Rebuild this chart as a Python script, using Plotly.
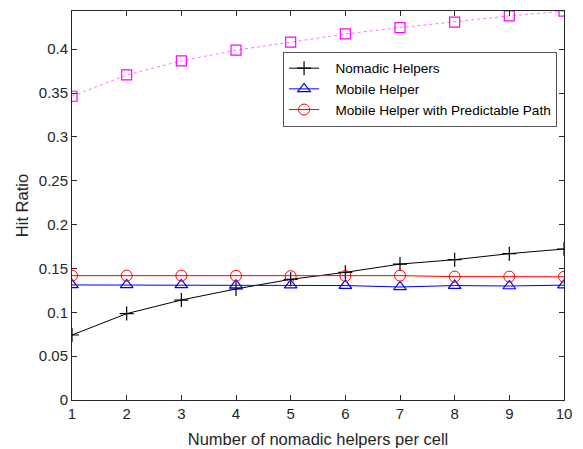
import plotly.graph_objects as go

x_vals = [1, 2, 3, 4, 5, 6, 7, 8, 9, 10]
upper_bound = [0.3464, 0.3707, 0.3867, 0.3990, 0.4080, 0.4175, 0.4247, 0.4310, 0.4380, 0.4434]
nomadic = [0.0741, 0.0985, 0.1140, 0.1266, 0.1376, 0.1456, 0.1550, 0.1600, 0.1669, 0.1722]
mobile = [0.1312, 0.1312, 0.1312, 0.1310, 0.1310, 0.1305, 0.1289, 0.1305, 0.1300, 0.1310]
mobile_pred = [0.1418, 0.1418, 0.1418, 0.1416, 0.1412, 0.1414, 0.1418, 0.1407, 0.1407, 0.1405]
y_ticks = [0, 0.05, 0.1, 0.15, 0.2, 0.25, 0.3, 0.35, 0.4]
y_tick_text = ["0", "0.05", "0.1", "0.15", "0.2", "0.25", "0.3", "0.35", "0.4"]

FONT = "Liberation Sans, Arial"
fig = go.Figure()
fig.add_trace(go.Scatter(x=x_vals, y=upper_bound, mode="lines", showlegend=False,
                         line=dict(color="rgba(255,0,255,0.55)", width=1, dash="dot")))
fig.add_trace(go.Scatter(x=x_vals, y=upper_bound, mode="markers", showlegend=False,
                         marker=dict(symbol="square-open", size=10, color="#ff00ff", line=dict(width=1.2))))
fig.add_trace(go.Scatter(x=x_vals, y=nomadic, mode="lines+markers", name="\u00a0\u00a0\u00a0Nomadic Helpers",
                         line=dict(color="black", width=1),
                         marker=dict(symbol="cross-thin-open", size=10, color="black", line=dict(width=1.2, color="black"))))
fig.add_trace(go.Scatter(x=x_vals, y=mobile, mode="lines+markers", name="\u00a0\u00a0\u00a0Mobile Helper",
                         line=dict(color="blue", width=1),
                         marker=dict(symbol="triangle-up-open", size=11, color="blue", line=dict(width=1.2))))
fig.add_trace(go.Scatter(x=x_vals, y=mobile_pred, mode="lines+markers", name="\u00a0\u00a0\u00a0Mobile Helper with Predictable Path",
                         line=dict(color="red", width=1),
                         marker=dict(symbol="circle-open", size=11, color="red", line=dict(width=1))))

axis_common = dict(showline=True, linecolor="#262626", linewidth=1, mirror="ticks",
                   ticks="inside", ticklen=5, tickcolor="#262626", showgrid=False, zeroline=False,
                   automargin=False,
                   tickfont=dict(family=FONT, size=15, color="#262626"))
fig.update_xaxes(range=[1, 10], tickvals=x_vals, title=dict(text="Number of nomadic helpers per cell",
                 font=dict(family=FONT, size=16.5, color="#262626"), standoff=12), **axis_common)
fig.update_yaxes(range=[0, 0.4436], tickvals=y_ticks, ticktext=y_tick_text,
                 title=dict(text="Hit Ratio", font=dict(family=FONT, size=16.5, color="#262626"), standoff=6),
                 **axis_common)
fig.update_layout(width=583, height=449, margin=dict(l=72, r=19, t=11, b=49),
                  plot_bgcolor="white", paper_bgcolor="white",
                  legend=dict(x=0.429, y=0.895, xanchor="left", yanchor="top",
                              bordercolor="#555555", borderwidth=1, bgcolor="white",
                              font=dict(family=FONT, size=13.6, color="black"),
                              tracegroupgap=0, itemwidth=30))
fig.write_html("out.html")
